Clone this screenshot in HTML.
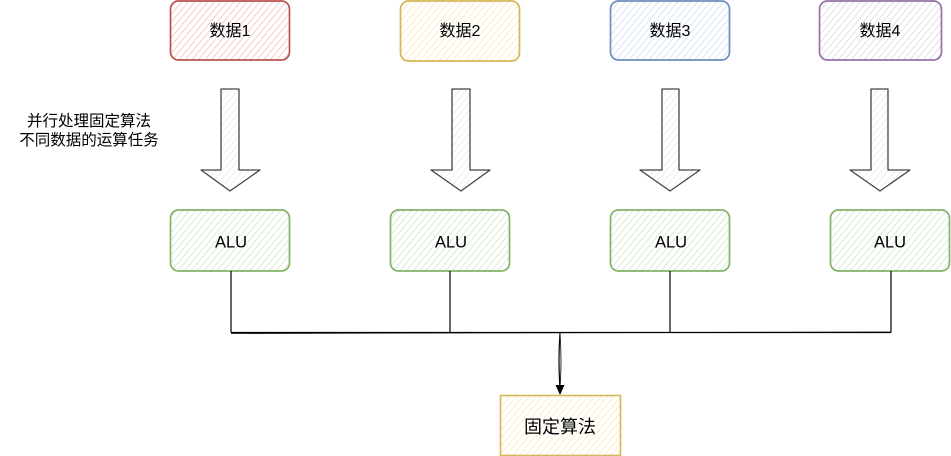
<!DOCTYPE html>
<html><head><meta charset="utf-8"><style>
html,body{margin:0;padding:0;background:#fff;}
svg{display:block;}
text{font-family:"Liberation Sans","Noto Sans CJK SC",sans-serif;fill:#000;}
</style></head><body>
<svg width="951" height="456" viewBox="0 0 951 456" xmlns="http://www.w3.org/2000/svg">
<defs>
<pattern id="hr" width="5" height="5" patternUnits="userSpaceOnUse" patternTransform="rotate(40)"><rect width="5" height="5" fill="#fff"/><line x1="0" y1="0" x2="0" y2="5" stroke="#f2b8b6" stroke-width="1.4"/></pattern>
<pattern id="hy" width="5" height="5" patternUnits="userSpaceOnUse" patternTransform="rotate(40)"><rect width="5" height="5" fill="#fff"/><line x1="0" y1="0" x2="0" y2="5" stroke="#fbe7b0" stroke-width="1.4"/></pattern>
<pattern id="hb" width="5" height="5" patternUnits="userSpaceOnUse" patternTransform="rotate(40)"><rect width="5" height="5" fill="#fff"/><line x1="0" y1="0" x2="0" y2="5" stroke="#cbdcf5" stroke-width="1.4"/></pattern>
<pattern id="hp" width="5" height="5" patternUnits="userSpaceOnUse" patternTransform="rotate(40)"><rect width="5" height="5" fill="#fff"/><line x1="0" y1="0" x2="0" y2="5" stroke="#dccfe3" stroke-width="1.4"/></pattern>
<pattern id="hg" width="5" height="5" patternUnits="userSpaceOnUse" patternTransform="rotate(40)"><rect width="5" height="5" fill="#fff"/><line x1="0" y1="0" x2="0" y2="5" stroke="#c9e3c5" stroke-width="1.4"/></pattern>
<pattern id="hgr" width="5" height="5" patternUnits="userSpaceOnUse" patternTransform="rotate(40)"><rect width="5" height="5" fill="#fff"/><line x1="0" y1="0" x2="0" y2="5" stroke="#e4e4e4" stroke-width="1.2"/></pattern>
</defs>

<!-- data boxes -->
<rect x="170.5" y="1" width="119" height="59" rx="8" fill="url(#hr)" stroke="#b85450" stroke-width="1.7"/>
<rect x="400.5" y="1" width="119" height="60" rx="8" fill="url(#hy)" stroke="#d6b656" stroke-width="1.7"/>
<rect x="610.5" y="1" width="119" height="59" rx="8" fill="url(#hb)" stroke="#6c8ebf" stroke-width="1.7"/>
<rect x="819.5" y="1" width="122" height="59" rx="8" fill="url(#hp)" stroke="#9673a6" stroke-width="1.7"/>
<text x="230" y="36" font-size="16" text-anchor="middle">数据1</text>
<text x="460" y="36" font-size="16" text-anchor="middle">数据2</text>
<text x="670" y="36" font-size="16" text-anchor="middle">数据3</text>
<text x="880" y="36" font-size="16" text-anchor="middle">数据4</text>

<!-- big arrows -->
<polygon points="221,89 239,89 239,170 260,170 230,191 201,170 221,170" fill="url(#hgr)" stroke="#444" stroke-width="1.3" stroke-linejoin="round"/>
<polygon points="452,89 470,89 470,170 490,170 461,191 431,170 452,170" fill="url(#hgr)" stroke="#444" stroke-width="1.3" stroke-linejoin="round"/>
<polygon points="662,89 679,89 679,170 700,170 670,191 640,170 662,170" fill="url(#hgr)" stroke="#444" stroke-width="1.3" stroke-linejoin="round"/>
<polygon points="871,89 888,89 888,170 910,170 880,191 850,170 871,170" fill="url(#hgr)" stroke="#444" stroke-width="1.3" stroke-linejoin="round"/>

<!-- side label -->
<text x="89" y="126" font-size="15.5" text-anchor="middle">并行处理固定算法</text>
<text x="89" y="145" font-size="15.5" text-anchor="middle">不同数据的运算任务</text>

<!-- ALU boxes -->
<rect x="170.5" y="210" width="119" height="61" rx="8" fill="url(#hg)" stroke="#82b366" stroke-width="1.7"/>
<rect x="390.5" y="210" width="119" height="61" rx="8" fill="url(#hg)" stroke="#82b366" stroke-width="1.7"/>
<rect x="610.5" y="210" width="119" height="61" rx="8" fill="url(#hg)" stroke="#82b366" stroke-width="1.7"/>
<rect x="830.5" y="210" width="119" height="61" rx="8" fill="url(#hg)" stroke="#82b366" stroke-width="1.7"/>
<text x="231" y="247.5" font-size="16.5" text-anchor="middle">ALU</text>
<text x="451" y="247.5" font-size="16.5" text-anchor="middle">ALU</text>
<text x="671" y="247.5" font-size="16.5" text-anchor="middle">ALU</text>
<text x="890" y="247.5" font-size="16.5" text-anchor="middle">ALU</text>

<!-- connectors -->
<g stroke="#000" stroke-width="1.2" fill="none">
<line x1="231" y1="271" x2="231" y2="332.5"/>
<line x1="450" y1="271" x2="450" y2="332.5"/>
<line x1="670" y1="271" x2="670" y2="332.5"/>
<line x1="891" y1="271" x2="891" y2="332.5"/>
<line x1="231" y1="332.5" x2="891" y2="332.5"/>
<line x1="231" y1="333.5" x2="891" y2="332" stroke-width="0.8"/>
<path d="M560,333 Q558,360 560,388"/>
<path d="M560,333 Q562,360 560,388" stroke-width="0.8"/>
</g>
<polygon points="555.5,385 564.5,385 560,395" fill="#000"/>

<!-- bottom box -->
<rect x="500.5" y="395.5" width="120" height="60" fill="url(#hy)" stroke="#d6b656" stroke-width="1.6"/>
<text x="560" y="433" font-size="18" text-anchor="middle">固定算法</text>
</svg>
</body></html>
